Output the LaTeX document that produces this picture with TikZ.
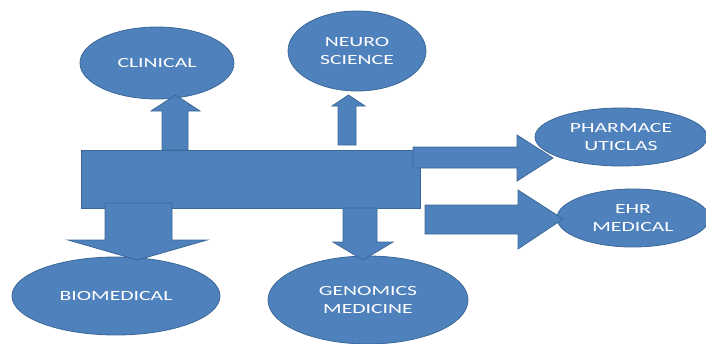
\documentclass[tikz,border=0pt]{standalone}
\usepackage{fontspec}
\setmainfont{Carlito}[FakeStretch=1.55]
\usetikzlibrary{shapes.geometric}
\definecolor{boxblue}{HTML}{4F81BD}
\definecolor{edgeblue}{HTML}{3B6898}
\tikzset{
  shapefill/.style={fill=boxblue, draw=edgeblue, line width=0.8pt, line join=miter},
  bubble/.style={shapefill, ellipse, inner sep=0pt, text=white, align=center,
    font=\fontsize{14}{18}\selectfont},
}
\begin{document}
\begin{tikzpicture}[x=1pt, y=-1pt]
\useasboundingbox (0,0) rectangle (706,343);
% ellipses
\node[bubble, minimum width=154pt, minimum height=72pt] (clin) at (157,63) {CLINICAL};
\node[bubble, minimum width=138pt, minimum height=80pt] (neuro) at (357,51) {NEURO\\SCIENCE};
\node[bubble, minimum width=172pt, minimum height=58pt] (pharm) at (621,137) {PHARMACE\\UTICLAS};
\node[bubble, minimum width=152pt, minimum height=58pt] (ehr) at (633,218) {EHR\\MEDICAL};
\node[bubble, minimum width=208pt, minimum height=78pt] (bio) at (116,296) {BIOMEDICAL};
\node[bubble, minimum width=200pt, minimum height=88pt] (gen) at (368,300) {GENOMICS\\MEDICINE};
% central block
\node[shapefill, rectangle, inner sep=0pt, minimum width=339pt, minimum height=58pt, anchor=north west] (hub) at (81,150) {};
% block arrows
\draw[shapefill] (162,150) -- (162,111) -- (151,111) -- (175.5,95) -- (200,111) -- (188,111) -- (188,150) -- cycle;
\draw[shapefill] (338,145) -- (338,106) -- (332,106) -- (348.5,95) -- (365,106) -- (356,106) -- (356,145) -- cycle;
\draw[shapefill] (413,147) -- (517,147) -- (517,135) -- (553,158) -- (517,181) -- (517,168) -- (413,168) -- cycle;
\draw[shapefill] (425,205) -- (518,205) -- (518,190) -- (563,219) -- (518,249) -- (518,234) -- (425,234) -- cycle;
\draw[shapefill] (105,203) -- (105,240) -- (68,240) -- (137.5,260) -- (207,240) -- (172,240) -- (172,203) -- cycle;
\draw[shapefill] (343,208) -- (343,242) -- (333,242) -- (363,260) -- (393,242) -- (377,242) -- (377,208) -- cycle;
\end{tikzpicture}
\end{document}
